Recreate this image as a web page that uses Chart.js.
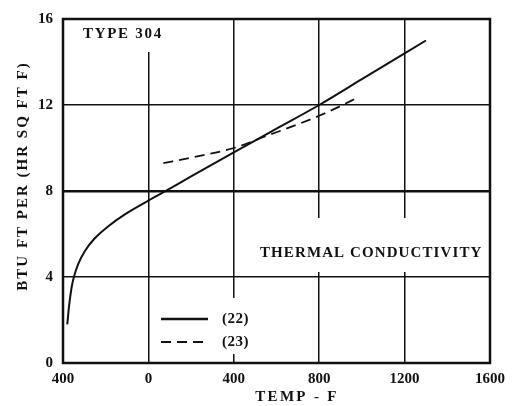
<!DOCTYPE html>
<html>
<head>
<meta charset="utf-8">
<script src="https://cdn.jsdelivr.net/npm/chart.js@4"></script>
<style>
  html, body { margin: 0; padding: 0; background: #fff; }
  #wrap { width: 512px; height: 406px; position: relative; }
</style>
</head>
<body>
<div id="wrap"><canvas id="c"></canvas></div>
<script>
// curve (22), solid
const temp22 = [-380, -371, -360, -349, -329, -298, -251, -189, -112, 0, 90, 200, 400, 600, 800, 1000, 1200, 1300]
const cond22 = [1.8, 2.7, 3.5, 4.0, 4.6, 5.2, 5.8, 6.35, 6.9, 7.55, 8.05, 8.68, 9.8, 10.9, 12.0, 13.2, 14.4, 15.0]
// curve (23), dashed
const temp23 = [70, 200, 400, 550, 700, 800, 900, 970]
const cond23 = [9.3, 9.55, 10.0, 10.55, 11.1, 11.5, 11.95, 12.3]

const xTickValues = [-400, 0, 400, 800, 1200, 1600]
const xTickLabels = ['400', '0', '400', '800', '1200', '1600']
const yTickValues = [0, 4, 8, 12, 16]

const serif = 'Liberation Serif'

function pts(xs, ys) {
    return xs.map((x, i) => ({ x: x, y: ys[i] }))
}

function txt(ctx, s, x, y, size, spacing, align) {
    ctx.save()
    ctx.font = 'bold ' + size + 'px "' + serif + '"'
    ctx.letterSpacing = spacing + 'px'
    ctx.fillStyle = '#111'
    ctx.textAlign = align || 'left'
    ctx.textBaseline = 'middle'
    ctx.fillText(s, x, y)
    ctx.restore()
}

const decor = {
    id: 'decor',
    beforeDatasetsDraw(chart) {
        const ctx = chart.ctx
        ctx.save()
        ctx.fillStyle = '#fff'
        // white boxes behind the labels, they cut the grid lines
        ctx.fillRect(75, 17, 96, 35)
        ctx.fillRect(255, 218, 232, 54)
        ctx.fillRect(155, 298, 100, 56)
        ctx.restore()
    },
    afterDraw(chart) {
        const ctx = chart.ctx
        const a = chart.chartArea
        ctx.save()
        ctx.strokeStyle = '#111'
        ctx.lineWidth = 2.5
        ctx.strokeRect(a.left, a.top, a.right - a.left, a.bottom - a.top)

        // legend
        ctx.lineWidth = 2.5
        ctx.beginPath()
        ctx.moveTo(161, 319); ctx.lineTo(208, 319)
        ctx.stroke()
        ctx.lineWidth = 1.8
        ctx.setLineDash([10, 6])
        ctx.beginPath()
        ctx.moveTo(161, 342); ctx.lineTo(208, 342)
        ctx.stroke()
        ctx.restore()

        txt(ctx, '(22)', 222, 319, 15, 0.5)
        txt(ctx, '(23)', 222, 342, 15, 0.5)
        txt(ctx, 'TYPE 304', 83, 34, 15, 1.7)
        txt(ctx, 'THERMAL CONDUCTIVITY', 260, 253, 15, 1.1)
        txt(ctx, 'TEMP - F', 297, 397, 15, 2.3, 'center')

        ctx.save()
        ctx.translate(23, 176)
        ctx.rotate(-Math.PI / 2)
        txt(ctx, 'BTU FT PER (HR SQ FT F)', 0, 0, 15, 2, 'center')
        ctx.restore()
    }
}

new Chart(document.getElementById('c').getContext('2d'), {
    type: 'line',
    plugins: [decor],
    data: {
        datasets: [{
            label: '(22)',
            data: pts(temp22, cond22),
            borderColor: '#111',
            borderWidth: 2,
            pointRadius: 0,
            cubicInterpolationMode: 'monotone',
            fill: false
        }, {
            label: '(23)',
            data: pts(temp23, cond23),
            borderColor: '#111',
            borderWidth: 1.8,
            borderDash: [10, 6],
            pointRadius: 0,
            cubicInterpolationMode: 'monotone',
            fill: false
        }]
    },
    options: {
        responsive: true,
        maintainAspectRatio: false,
        animation: false,
        layout: { padding: { top: 15, right: 19, left: 0, bottom: 0 } },
        plugins: {
            legend: { display: false },
            tooltip: { enabled: false }
        },
        scales: {
            x: {
                type: 'linear',
                min: -400,
                max: 1600,
                afterBuildTicks: s => { s.ticks = xTickValues.map(v => ({ value: v })) },
                afterFit: s => { s.height = 43 },
                border: { display: false },
                grid: { color: '#111', lineWidth: 1.5, drawTicks: false },
                ticks: {
                    color: '#111',
                    padding: 7,
                    maxRotation: 0,
                    autoSkip: false,
                    font: { family: serif, size: 15, weight: 'bold' },
                    callback: (v) => xTickLabels[xTickValues.indexOf(v)]
                }
            },
            y: {
                min: 0,
                max: 16,
                afterBuildTicks: s => { s.ticks = yTickValues.map(v => ({ value: v })) },
                afterFit: s => { s.width = 63 },
                border: { display: false },
                grid: {
                    color: '#111',
                    drawTicks: false,
                    lineWidth: c => (c.tick && c.tick.value === 8) ? 2.5 : 1.5
                },
                ticks: {
                    color: '#111',
                    padding: 10,
                    font: { family: serif, size: 15, weight: 'bold' }
                }
            }
        }
    }
})
</script>
</body>
</html>
